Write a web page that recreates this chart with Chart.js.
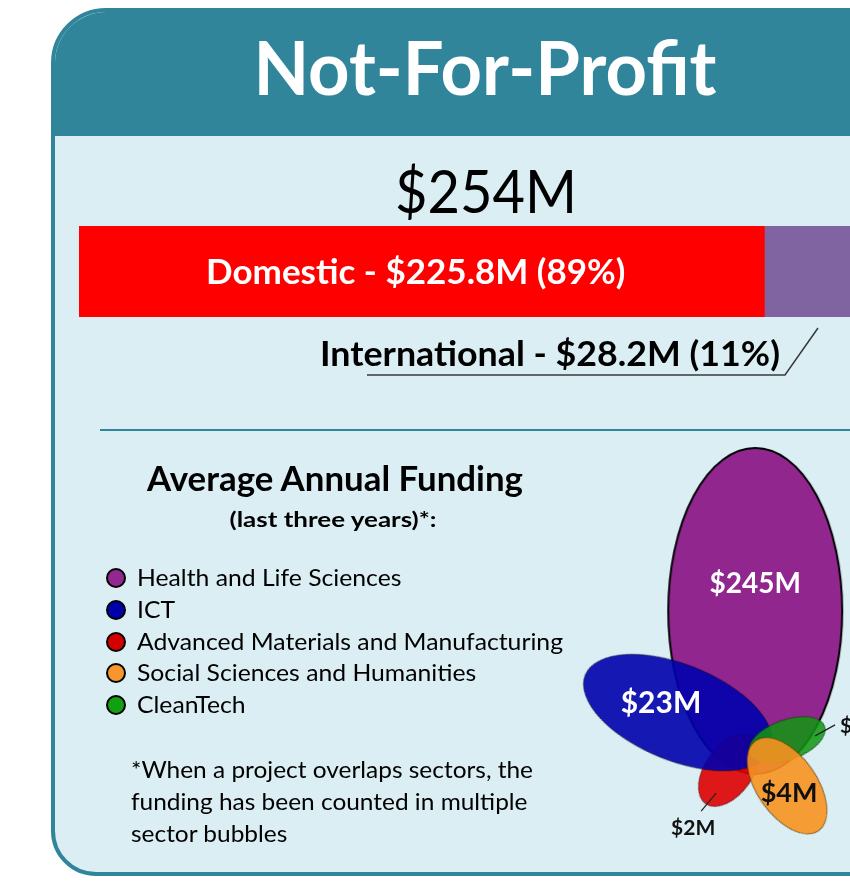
<!DOCTYPE html>
<html>
<head>
<meta charset="utf-8">
<script src="https://cdn.jsdelivr.net/npm/chart.js@4.4.1/dist/chart.umd.min.js"></script>
<style>
  html, body { margin: 0; padding: 0; background: #fff; width: 850px; height: 885px; overflow: hidden; font-family: Lato, "Open Sans", sans-serif; }
  #panel { position: absolute; left: 51px; top: 8px; width: 920px; height: 868px; box-sizing: border-box;
           border: 4px solid #31859B; border-radius: 55px 0 0 45px; background: #DBEEF4; overflow: hidden; }
  #head { position: absolute; left: 0; top: 0; right: 0; height: 124px; background: #31859B; }
  #divider { position: absolute; left: 100px; top: 429px; width: 750px; height: 2px; background: #31859B; }
  .wrap { position: absolute; }
  .txt { position: absolute; top: 0; white-space: nowrap; line-height: 1.2; }
  .dot { position: absolute; width: 16px; height: 16px; border: 2px solid #000; border-radius: 50%; }
</style>
</head>
<body>
<div id="panel"><div id="head"></div></div>
<div id="divider"></div>
<div class="wrap" style="left:79px;top:226px;width:771px;height:91px"><canvas id="bar"></canvas></div>
<svg style="position:absolute;left:0;top:0" width="850" height="885">
  <polyline points="367,375 785,375 818,328" fill="none" stroke="#3a3a3a" stroke-width="1.5"/>
</svg>
<div class="wrap" style="left:560px;top:440px;width:290px;height:425px"><canvas id="bubbles"></canvas></div>
<div id="texts"></div>

<script>
// funding split
const splitNames = ['Domestic', 'International'];
const splitValues = [225.8, 28.2];
const splitColors = ['#FF0000', '#8064A2'];

// sector bubbles
const sectors = ['Health and Life Sciences', 'ICT', 'Advanced Materials and Manufacturing',
                 'Social Sciences and Humanities', 'CleanTech'];
const funding = [245, 23, 2, 4, 3];
const sectorColors = ['#92278F', '#0000A8', '#D40000', '#F7962F', '#12A012'];

const total = splitValues.reduce((a, b) => a + b, 0);
const pct = v => Math.round(v / total * 100);
const splitText = i => splitNames[i] + ' - $' + splitValues[i].toFixed(1) + 'M (' + pct(splitValues[i]) + '%)';

// bubble shapes (local px of the bubble canvas), fills, draw order, label spots
const shapes = [
  { x: 197, y: 170, rx: 87, ry: 163, rot: 0, fill: 'rgba(146,38,143,1)', stroke: '#000', lw: 2, order: 5 },
  { x: 117, y: 274, rx: 100, ry: 48, rot: 22, fill: 'rgba(0,0,172,0.9)', stroke: 'rgba(0,0,40,0.6)', lw: 1, order: 3 },
  { x: 170, y: 333, rx: 41, ry: 24, rot: -55, fill: 'rgba(222,0,0,0.9)', stroke: 'rgba(60,0,0,0.6)', lw: 1, order: 4 },
  { x: 230, y: 349, rx: 55, ry: 30, rot: 55, fill: 'rgba(247,146,32,0.9)', stroke: 'rgba(60,40,0,0.6)', lw: 1, order: 1 },
  { x: 230, y: 302, rx: 40, ry: 20, rot: -20, fill: 'rgba(16,150,16,0.86)', stroke: 'rgba(0,50,0,0.6)', lw: 1, order: 2 }
];
const labelSpots = [
  { dx: 0, dy: -18, size: 28, color: '#fff', align: 'center' },
  { dx: -17, dy: 0, size: 30, color: '#fff', align: 'center' },
  { dx: -36, dy: 65, size: 21, color: '#111', align: 'center', line: [-28, 41, -13, 23] },
  { dx: 2, dy: 16, size: 27, color: '#111', align: 'center' },
  { dx: 53, dy: -7, size: 21, color: '#111', align: 'left', line: [28, -4, 48, -15] }
];

function ellipseImage(s) {
  const c = document.createElement('canvas');
  c.width = Math.ceil(s.rx * 2 + s.lw * 2 + 2);
  c.height = Math.ceil(s.ry * 2 + s.lw * 2 + 2);
  const g = c.getContext('2d');
  g.beginPath();
  g.ellipse(c.width / 2, c.height / 2, s.rx, s.ry, 0, 0, Math.PI * 2);
  g.fillStyle = s.fill;
  g.fill();
  g.lineWidth = s.lw;
  g.strokeStyle = s.stroke;
  g.stroke();
  return c;
}

const domesticLabel = {
  id: 'domesticLabel',
  afterDatasetsDraw(chart) {
    const el = chart.getDatasetMeta(0).data[0];
    const ctx = chart.ctx;
    const txt = splitText(0);
    ctx.save();
    ctx.font = 'bold 35px Lato';
    ctx.fillStyle = '#fff';
    ctx.textBaseline = 'alphabetic';
    const w = ctx.measureText(txt).width;
    const k = Math.min(1, 420 / w);
    ctx.translate((el.base + el.x) / 2 - 6, el.y + 12);
    ctx.scale(k, 1);
    ctx.textAlign = 'center';
    ctx.fillText(txt, 0, 0);
    ctx.restore();
  }
};

new Chart(document.getElementById('bar'), {
  type: 'bar',
  data: {
    labels: ['Total'],
    datasets: splitNames.map((n, i) => ({
      label: n, data: [splitValues[i]], backgroundColor: splitColors[i],
      borderWidth: 0, barPercentage: 1, categoryPercentage: 1
    }))
  },
  options: {
    indexAxis: 'y', animation: false, responsive: true, maintainAspectRatio: false,
    layout: { padding: 0 },
    scales: {
      x: { stacked: true, display: false, min: 0, max: total },
      y: { stacked: true, display: false }
    },
    plugins: { legend: { display: false }, tooltip: { enabled: false } }
  },
  plugins: [domesticLabel]
});

const bubbleLabels = {
  id: 'bubbleLabels',
  afterDatasetsDraw(chart) {
    const ctx = chart.ctx;
    funding.forEach((v, i) => {
      const pt = chart.getDatasetMeta(i).data[0];
      const lb = labelSpots[i];
      ctx.save();
      if (lb.line) {
        ctx.beginPath();
        ctx.moveTo(pt.x + lb.line[0], pt.y + lb.line[1]);
        ctx.lineTo(pt.x + lb.line[2], pt.y + lb.line[3]);
        ctx.strokeStyle = '#222';
        ctx.lineWidth = 1.2;
        ctx.stroke();
      }
      ctx.font = 'bold ' + lb.size + 'px Lato';
      ctx.fillStyle = lb.color;
      ctx.textAlign = lb.align;
      ctx.textBaseline = 'alphabetic';
      ctx.fillText('$' + v + 'M', pt.x + lb.dx, pt.y + lb.dy);
      ctx.restore();
    });
  }
};

new Chart(document.getElementById('bubbles'), {
  type: 'bubble',
  data: {
    datasets: sectors.map((name, i) => ({
      label: name,
      data: [{ x: shapes[i].x, y: shapes[i].y, r: 2 }],
      pointStyle: ellipseImage(shapes[i]),
      rotation: shapes[i].rot,
      backgroundColor: sectorColors[i],
      order: shapes[i].order,
      clip: false
    }))
  },
  options: {
    animation: false, responsive: true, maintainAspectRatio: false,
    layout: { padding: 0 },
    scales: {
      x: { display: false, min: 0, max: 290 },
      y: { display: false, min: 0, max: 425, reverse: true }
    },
    plugins: { legend: { display: false }, tooltip: { enabled: false } }
  },
  plugins: [bubbleLabels]
});

// text blocks
const box = document.getElementById('texts');
function addText(txt, x, baseline, size, weight, color, align) {
  const el = document.createElement('div');
  el.className = 'txt';
  el.textContent = txt;
  el.style.fontSize = size + 'px';
  el.style.fontWeight = weight;
  el.style.color = color;
  const mark = document.createElement('span');
  mark.style.cssText = 'display:inline-block;width:0;height:0';
  el.appendChild(mark);
  box.appendChild(el);
  const off = mark.getBoundingClientRect().top - el.getBoundingClientRect().top;
  el.style.top = (baseline - off) + 'px';
  el.style.left = x + 'px';
  el.dataset.align = align;
  return el;
}
function fit(els, ref, target) {
  const k = target / ref.getBoundingClientRect().width;
  els.forEach(el => {
    if (el.dataset.align === 'center') {
      el.style.transform = 'translateX(-50%) scaleX(' + k + ')';
    } else {
      el.style.transformOrigin = '0 0';
      el.style.transform = 'scaleX(' + k + ')';
    }
  });
}

const title = addText('Not-For-Profit', 485, 95, 74, 700, '#fff', 'center');
fit([title], title, 463);
const totalTxt = addText('$' + Math.round(total) + 'M', 486, 213, 60, 400, '#000', 'center');
fit([totalTxt], totalTxt, 182);
const intl = addText(splitText(1), 550, 366, 35, 700, '#000', 'center');
fit([intl], intl, 460);
const avg = addText('Average Annual Funding', 335, 491, 34, 700, '#000', 'center');
fit([avg], avg, 376);
const sub = addText('(last three years)*:', 333, 527, 20, 700, '#000', 'center');
fit([sub], sub, 207);

const legendEls = sectors.map((s, i) => {
  const cy = 578 + i * 31.75;
  const d = document.createElement('span');
  d.className = 'dot';
  d.style.left = (116 - 10) + 'px';
  d.style.top = (cy - 10) + 'px';
  d.style.background = sectorColors[i];
  box.appendChild(d);
  return addText(s, 137, cy + 8, 23, 400, '#000', 'left');
});
fit(legendEls, legendEls[2], 426);

const notes = ['*When a project overlaps sectors, the', 'funding has been counted in multiple', 'sector bubbles'];
const noteEls = notes.map((t, i) => addText(t, 131, 778 + i * 32, 23, 400, '#000', 'left'));
fit(noteEls, noteEls[0], 402);
</script>
</body>
</html>
